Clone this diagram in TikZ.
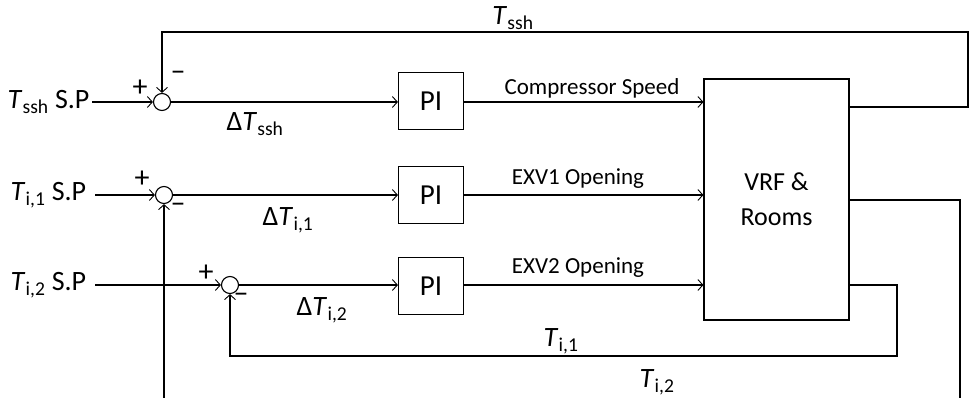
\documentclass[tikz,border=0pt]{standalone}
\usepackage{fontspec}
\setmainfont{Carlito}
\usetikzlibrary{arrows.meta}
\newcommand\Tv[1]{\textit{T}\kern0.3pt\textsubscript{#1}}
\begin{document}
\begin{tikzpicture}[x=1pt,y=-1pt,line width=1.1pt,
  arr/.style={-{Straight Barb[length=5pt,width=11pt,line width=0.9pt]}},
  sumj/.style={circle,draw,minimum size=17pt,inner sep=0pt},
  pibox/.style={draw,minimum width=65pt,minimum height=57pt,inner sep=0pt,font=\fontsize{29}{34}\selectfont},
  bigbox/.style={draw,minimum width=145pt,minimum height=241pt,inner sep=0pt,align=center,font=\fontsize{26}{35}\selectfont},
  biglab/.style={inner sep=0pt,font=\fontsize{28}{32}\selectfont},
  siglab/.style={inner sep=0pt,font=\fontsize{23}{28}\selectfont},
  signlab/.style={inner sep=0pt,font=\fontsize{30}{32}\selectfont}]
\useasboundingbox (0,0) rectangle (969,398);

% summing junctions
\node[sumj] (s1) at (162,102) {};
\node[sumj] (s2) at (164,195) {};
\node[sumj] (s3) at (230,285) {};

% PI boxes
\node[pibox] (p1) at (431,101) {PI};
\node[pibox] (p2) at (431,195) {PI};
\node[pibox] (p3) at (431,286) {PI};

% plant
\node[bigbox] (vrf) at (776.5,199.5) {VRF \&\\Rooms};

% set point labels
\node[biglab,anchor=west] (in1) at (7,102) {\Tv{ssh} S.P};
\node[biglab,anchor=west] (in2) at (10,195) {\Tv{i,1} S.P};
\node[biglab,anchor=west] (in3) at (10,285) {\Tv{i,2} S.P};
\coordinate (a1) at (92,102);
\coordinate (a2) at (95,195);
\coordinate (a3) at (95,285);

% signs
\node[signlab] (pl1) at (140,88) {+};
\node[signlab] (mi1) at (178,76) {–};
\node[signlab] (pl2) at (142,179) {+};
\node[signlab] (mi2) at (178,208) {–};
\node[signlab] (pl3) at (206,273) {+};
\node[signlab] (mi3) at (241,298) {–};

% error labels
\node[biglab] (e1) at (255,124) {Δ\Tv{ssh}};
\node[biglab] (e2) at (288,220) {Δ\Tv{i,1}};
\node[biglab] (e3) at (322,310) {Δ\Tv{i,2}};

% actuator labels
\node[siglab] (c1) at (592,88) {Compressor Speed};
\node[siglab] (c2) at (578,179) {EXV1 Opening};
\node[siglab] (c3) at (578,268) {EXV2 Opening};

% feedback labels
\node[biglab] (f1) at (513,18) {\Tv{ssh}};
\node[biglab] (f2) at (561,341) {\Tv{i,1}};
\node[biglab] (f3) at (657,382) {\Tv{i,2}};

% corner coordinates
\coordinate (o1) at (849,107);
\coordinate (o2) at (849,200);
\coordinate (o3) at (849,285);
\coordinate (k1) at (968,107);
\coordinate (k2) at (968,32);
\coordinate (k3) at (162,32);
\coordinate (m1) at (960,200);
\coordinate (m2) at (960,398);
\coordinate (n1) at (897,285);
\coordinate (n2) at (897,356);
\coordinate (n3) at (230,356);
\coordinate (b2) at (164,398);

% forward paths
\draw[arr] (a1) -- (s1.west);
\draw[arr] (a2) -- (s2.west);
\draw[arr] (a3) -- (s3.west);
\draw[arr] (s1.east) -- (s1.east -| p1.west);
\draw[arr] (s2.east) -- (p2.west);
\draw[arr] (s3.east) -- (s3.east -| p3.west);
\draw[arr] (p1.east |- s1.east) -- (s1.east -| vrf.west);
\draw[arr] (p2.east) -- (p2.east -| vrf.west);
\draw[arr] (p3.east |- s3.east) -- (s3.east -| vrf.west);

% feedback paths
\draw[arr] (o1) -- (k1) -- (k2) -- (k3) -- (s1.north);
\draw (o2) -- (m1) -- (m2);
\draw[arr] (b2) -- (s2.south);
\draw[arr] (o3) -- (n1) -- (n2) -- (n3) -- (s3.south);
\end{tikzpicture}
\end{document}
